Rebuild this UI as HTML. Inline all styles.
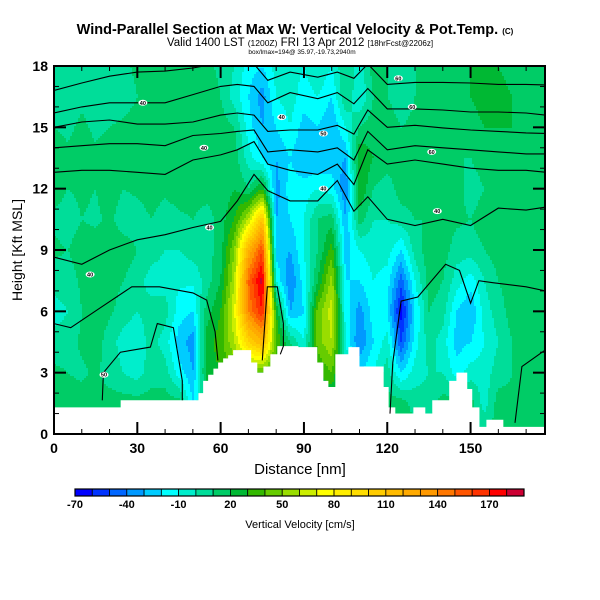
<!DOCTYPE html>
<html><head><meta charset="utf-8">
<style>
body{margin:0;background:#fff;}
svg{display:block;font-family:"Liberation Sans",sans-serif;}
</style></head>
<body>
<svg id="chart" width="600" height="600" viewBox="0 0 600 600" xmlns="http://www.w3.org/2000/svg">
<rect width="600" height="600" fill="#fff"/>
<text x="295" y="34" text-anchor="middle" font-size="14.5" font-weight="bold">Wind-Parallel Section at Max W: Vertical Velocity &amp; Pot.Temp. <tspan font-size="8">(C)</tspan></text>
<text x="300" y="46" text-anchor="middle" font-size="11.5">Valid 1400 LST <tspan font-size="8.5">(1200Z)</tspan> FRI 13 Apr 2012 <tspan font-size="8">[18hrFcst@2206z]</tspan></text>
<text x="302" y="54" text-anchor="middle" font-size="6.5">box/lmax=194@ 35.97,-19.73,2940m</text>
<g id="field"></g>
<g id="terrain"></g>
<g id="isentropes"></g>
<g id="labels"></g>
<g id="axes"></g>
<text x="300" y="474" text-anchor="middle" font-size="15">Distance [nm]</text>
<text transform="translate(22,250) rotate(-90)" text-anchor="middle" font-size="14">Height [Kft MSL]</text>
<g id="colorbar"></g>
<text x="300" y="528" text-anchor="middle" font-size="11">Vertical Velocity [cm/s]</text>
</svg>
<script>
// ---- data ----
const gridDist = [0,5,10,15,20,25,30,35,40,45,50,55,60,65,70,75,80,85,90,95,100,105,110,115,120,125,130,135,140,145,150,155,160,165,170,175];
const gridHeight = [0,1.5,3,4.5,6,7.5,9,10.5,12,13.5,15,16.5,18];
const wValues = [
[15,15,12,5,-5,5,12,8,15,15,10,8,10],
[15,15,10,5,0,5,10,5,10,12,8,5,8],
[15,15,8,12,10,12,15,10,12,15,12,8,10],
[15,15,12,15,15,15,15,8,10,12,8,5,8],
[15,15,5,5,12,15,18,12,15,15,10,5,5],
[15,15,0,-5,5,10,15,5,10,15,12,5,8],
[15,15,-5,-8,0,5,10,5,12,15,15,10,12],
[15,15,5,5,5,-5,5,10,15,18,15,15,12],
[15,15,5,-5,5,-5,0,5,12,15,15,12,10],
[15,15,-15,-25,-15,-8,0,8,15,15,15,10,10],
[15,-20,-30,-35,-20,-8,5,10,15,20,15,15,10],
[15,15,25,25,15,5,5,5,15,15,15,15,12],
[15,15,30,35,30,20,15,15,12,15,15,10,8],
[15,15,40,60,70,60,50,30,20,15,10,-5,0],
[15,15,40,100,140,150,120,60,10,-5,-15,-20,-15],
[15,15,40,120,170,185,160,110,30,-20,-30,-35,-20],
[15,15,30,40,30,-10,-25,-30,-35,-30,-20,-10,-5],
[15,15,25,10,-30,-40,-30,-20,-15,-20,-10,-5,-5],
[15,15,15,-10,-20,-15,-10,-10,-15,-30,-25,-15,-10],
[15,15,30,45,45,20,10,10,-10,-30,-20,-10,0],
[15,15,40,60,65,55,35,15,-15,-25,-30,-20,-10],
[15,15,0,-10,-15,-20,-25,-30,-40,-30,-10,10,10],
[15,15,-20,-40,-35,-20,-10,15,30,30,10,-10,-5],
[15,15,-10,-20,-15,-10,-5,0,10,20,15,10,15],
[15,15,5,-5,-20,-15,-5,0,5,15,15,10,10],
[15,15,-20,-50,-65,-45,-20,5,15,15,10,5,5],
[15,5,-5,-15,-20,-10,5,10,15,12,12,10,10],
[15,5,0,5,10,15,15,10,10,10,15,15,15],
[15,15,0,-5,5,10,15,15,15,10,15,15,12],
[15,15,-15,-25,-20,-5,5,12,15,10,10,12,10],
[15,15,-5,-20,-30,-15,5,10,5,10,15,20,20],
[10,-5,-5,-10,-5,0,10,15,10,15,20,25,20],
[15,15,5,0,5,10,15,15,10,15,20,25,20],
[15,12,10,10,15,15,15,10,10,15,20,20,15],
[15,15,15,15,15,15,15,15,12,15,15,15,12],
[15,15,15,15,15,15,15,12,12,10,15,10,10]
];
const terrainStart = [0,24,52,53.7,55.5,57.4,59.1,60.9,62.7,64.5,71,73.2,75.4,77.9,80.4,88,94.8,97,98.8,101.3,106,110,118.7,120.5,122.9,129.4,133.7,136.2,142.3,144.9,148.8,150.6,153.2,155.7,161.8];
const terrainHeight = [1.3,1.65,2.0,2.6,2.9,3.2,3.5,3.7,3.85,4.1,3.5,3.0,3.3,3.9,4.3,4.25,3.5,2.6,2.3,3.9,4.25,3.3,2.3,1.3,1.0,1.3,1.0,1.65,2.6,3.0,2.2,1.3,0.35,0.7,0.35];
const lineDist = [0,10,20,30,40,50,60,66,72,77,85,95,102,108,113,120,130,140,150,160,170,177];
const theta1 = [16.8,17.17,17.5,17.7,17.75,17.9,18.15,18.3,18.1,17.3,17.7,17.45,17.7,17.4,18.1,17.1,17.2,17.2,17.17,17.1,17.1,17.07];
const theta2 = [15.7,16.0,16.2,16.2,16.2,16.6,17.0,17.1,17.0,16.2,16.7,16.4,16.7,16.15,16.9,15.9,15.9,15.85,15.75,15.75,15.7,15.6];
const theta3 = [15.0,15.26,15.36,15.16,15.16,15.26,15.6,15.7,15.6,14.8,14.87,14.87,15.1,14.67,15.85,15.0,15.1,14.97,14.87,14.8,14.73,14.7];
const theta4 = [14.0,14.1,14.2,14.2,14.1,14.6,14.7,14.8,14.87,13.8,13.9,13.8,14.0,13.4,14.8,13.9,14.1,14.0,13.9,13.8,13.7,13.7];
const theta5 = [12.8,12.9,12.9,12.8,12.7,13.4,13.65,13.9,14.3,13.2,12.9,12.7,13.2,12.2,13.9,13.2,13.4,13.2,13.0,12.9,12.9,12.8];
const theta6 = [8.65,8.3,9.0,9.5,9.75,10.1,10.4,11.4,12.7,11.9,11.4,11.4,12.4,10.9,11.6,10.5,10.2,10.5,10.2,11.05,10.95,11.1];
const theta7Dist = [0,6,17,28,38,50,55,58,59];
const theta7 = [5.4,5.2,6.2,7.2,7.2,6.9,6.55,5.0,3.6];
const theta8Dist = [121,122,125,131,141,146,150,153,158,170,177];
const theta8 = [1.0,3.5,6.5,6.7,8.3,8.0,6.4,7.5,7.4,7.2,7.0];
const bubbleDist = [17.4,17.8,23.9,34.7,37.2,43.0,46.2,46.2];
const bubbleH = [1.65,3.0,4.0,4.25,5.4,5.2,2.6,1.65];
const loopDist = [75.0,76.8,80.4,82.6,82.6,81.5];
const loopH = [3.6,7.2,7.2,5.4,4.3,3.9];
const rightDist = [166,168.5,176.8];
const rightH = [0.55,3.3,4.1];
const labelDist = [32,54,56,13,18,82,97,97,124,129,136,138];
const labelH = [16.2,14.0,10.1,7.8,2.9,15.5,14.7,12.0,17.4,16.0,13.8,10.9];
const labelText = ['40','40','40','40','50','40','50','40','60','60','60','40'];
const cbValues = [-70,-60,-50,-40,-30,-20,-10,0,10,20,30,40,50,60,70,80,90,100,110,120,130,140,150,160,170,180,190];
const cbTickLabels = ['-70','-40','-10','20','50','80','110','140','170'];
const cbTickValues = [-70,-40,-10,20,50,80,110,140,170];
const palette = ['#0000ff','#0033ff','#0066ff','#0099ff','#00ccff','#00ffff','#00eecc','#00dd99','#00cc66','#00b833','#33b800','#66cc00','#99dd00','#ccee00','#ffff00','#ffee00','#ffdd00','#ffcc00','#ffbb00','#ffaa00','#ff9900','#ff7700','#ff5500','#ff3300','#ff0000','#cc0033'];
const xTicks = [0,30,60,90,120,150];
const yTicks = [0,3,6,9,12,15,18];

// ---- scales ----
const X0=54, X1=545, Y0=434, Y1=66, DMAX=176.8, HMAX=18;
const xs = d => X0 + d/DMAX*(X1-X0);
const ys = h => Y0 - h/HMAX*(Y0-Y1);
const NS='http://www.w3.org/2000/svg';
function mk(tag, attrs, parent){const e=document.createElementNS(NS,tag);for(const k in attrs)e.setAttribute(k,attrs[k]);parent.appendChild(e);return e;}
function colorOf(v){let b=Math.floor((v+70)/10);b=Math.max(0,Math.min(palette.length-1,b));return palette[b];}
function sample(d,h){
  let i=0; while(i<gridDist.length-2 && d>gridDist[i+1]) i++;
  let j=0; while(j<gridHeight.length-2 && h>gridHeight[j+1]) j++;
  let tx=(d-gridDist[i])/(gridDist[i+1]-gridDist[i]); tx=Math.max(0,Math.min(1,tx));
  let ty=(h-gridHeight[j])/(gridHeight[j+1]-gridHeight[j]); ty=Math.max(0,Math.min(1,ty));
  const a=wValues[i][j],b=wValues[i+1][j],c=wValues[i][j+1],e=wValues[i+1][j+1];
  return (a*(1-tx)+b*tx)*(1-ty)+(c*(1-tx)+e*tx)*ty;
}
// ---- field ----
const field=document.getElementById('field');
const S=2;
function flush(x0,x1,y,col){
  const r=mk('rect',{x:x0,y:y,width:x1-x0,height:S,fill:col},field);
  
  
}
for(let py=Y1;py<Y0;py+=S){
  const h=(Y0-(py+S/2))/(Y0-Y1)*HMAX;
  let runStart=X0, runColor=null;
  for(let px=X0;px<X1;px+=S){
    const d=Math.min(DMAX,(px+S/2-X0)/(X1-X0)*DMAX);
    const col=colorOf(sample(d,h));
    if(col!==runColor){
      if(runColor!==null) flush(runStart,px,py,runColor);
      runStart=px; runColor=col;
    }
  }
  if(runColor!==null) flush(runStart,X1,py,runColor);
}
// ---- terrain ----
const terr=document.getElementById('terrain');
let tp=`M${xs(0)},${Y0} `;
for(let k=0;k<terrainStart.length;k++){
  const d0=terrainStart[k], d1=(k+1<terrainStart.length)?terrainStart[k+1]:DMAX;
  tp+=`L${xs(d0)},${ys(terrainHeight[k])} L${xs(d1)},${ys(terrainHeight[k])} `;
}
tp+=`L${xs(DMAX)},${Y0} Z`;
const tpath=mk('path',{d:tp,fill:'#fff',stroke:'none'},terr);


// ---- isentropes ----
const iso=document.getElementById('isentropes');
const cp=mk('clipPath',{id:'pc'},iso);
mk('rect',{x:X0,y:Y1,width:X1-X0,height:Y0-Y1},cp);
function drawLine(ds,hs,name){
  const pts=ds.map((d,i)=>xs(d).toFixed(1)+','+ys(hs[i]).toFixed(1)).join(' ');
  const p=mk('polyline',{points:pts,fill:'none',stroke:'#000','stroke-width':1.1,'clip-path':'url(#pc)'},iso);
  
  
}
[theta1,theta2,theta3,theta4,theta5,theta6].forEach((t,i)=>drawLine(lineDist,t,'isentrope-'+(i+1)));
drawLine(theta7Dist,theta7,'isentrope-7');
drawLine(theta8Dist,theta8,'isentrope-8');
drawLine(bubbleDist,bubbleH,'isentrope-bubble');
drawLine(loopDist,loopH,'isentrope-loop');
drawLine(rightDist,rightH,'isentrope-right');
// ---- labels ----
const lab=document.getElementById('labels');
labelDist.forEach((d,i)=>{
  const g=mk('g',{},lab);
  
  
  mk('ellipse',{cx:xs(d),cy:ys(labelH[i]),rx:4.5,ry:3,fill:'#fff'},g);
  const t=mk('text',{x:xs(d),y:ys(labelH[i])+2,'text-anchor':'middle','font-size':5.5,'font-weight':'bold'},g);
  t.textContent=labelText[i];
});
// ---- axes ----
const ax=document.getElementById('axes');
const frame=mk('rect',{x:X0,y:Y1,width:X1-X0,height:Y0-Y1,fill:'none',stroke:'#000','stroke-width':2},ax);


for(let d=0;d<=170;d+=10){
  const major=xTicks.includes(d), L=major?12:5;
  mk('line',{x1:xs(d),x2:xs(d),y1:Y0,y2:Y0-L,stroke:'#000','stroke-width':major?2:1},ax);
  mk('line',{x1:xs(d),x2:xs(d),y1:Y1,y2:Y1+L,stroke:'#000','stroke-width':major?2:1},ax);
}
xTicks.forEach(d=>{
  const t=mk('text',{x:xs(d),y:453,'text-anchor':'middle','font-size':14,'font-weight':'bold'},ax);
  
  
  t.textContent=d;
});
for(let h=0;h<=18;h++){
  const major=yTicks.includes(h), L=major?12:5;
  mk('line',{x1:X0,x2:X0+L,y1:ys(h),y2:ys(h),stroke:'#000','stroke-width':major?2:1},ax);
  mk('line',{x1:X1,x2:X1-L,y1:ys(h),y2:ys(h),stroke:'#000','stroke-width':major?2:1},ax);
}
yTicks.forEach(h=>{
  const t=mk('text',{x:48,y:ys(h)+5,'text-anchor':'end','font-size':14,'font-weight':'bold'},ax);
  
  
  t.textContent=h;
});
// ---- colorbar ----
const cb=document.getElementById('colorbar');
const CB0=75, CB1=524, vmin=cbValues[0], vmax=cbValues[cbValues.length-1];
const cx=v=>CB0+(v-vmin)/(vmax-vmin)*(CB1-CB0);
for(let k=0;k<cbValues.length-1;k++){
  const r=mk('rect',{x:cx(cbValues[k]),y:489,width:cx(cbValues[k+1])-cx(cbValues[k]),height:7,fill:colorOf(cbValues[k]+5),stroke:'#000','stroke-width':0.8},cb);
  
  
}
mk('rect',{x:CB0,y:489,width:CB1-CB0,height:7,fill:'none',stroke:'#000','stroke-width':1.2},cb);
cbTickValues.forEach((v,i)=>{
  const t=mk('text',{x:cx(v),y:508,'text-anchor':'middle','font-size':11,'font-weight':'bold'},cb);
  
  
  t.textContent=cbTickLabels[i];
});
</script>
</body></html>
